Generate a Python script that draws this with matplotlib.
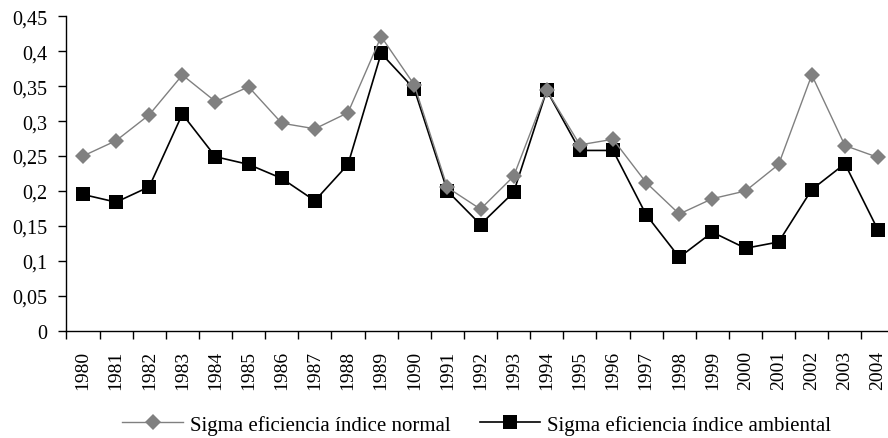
import numpy as np
import matplotlib.pyplot as plt

plt.rcParams['font.family'] = ['Liberation Serif', 'DejaVu Serif']

anos = ['1980', '1981', '1982', '1983', '1984', '1985', '1986', '1987', '1988',
        '1989', '1090', '1991', '1992', '1993', '1994', '1995', '1996', '1997',
        '1998', '1999', '2000', '2001', '2002', '2003', '2004']

sigma_normal = [0.250, 0.272, 0.309, 0.366, 0.328, 0.349, 0.297, 0.289, 0.312,
                0.421, 0.352, 0.205, 0.174, 0.221, 0.344, 0.266, 0.274, 0.212,
                0.167, 0.189, 0.200, 0.238, 0.366, 0.265, 0.248]

sigma_ambiental = [0.195, 0.184, 0.206, 0.310, 0.249, 0.238, 0.218, 0.186, 0.238,
                   0.397, 0.346, 0.200, 0.152, 0.198, 0.344, 0.258, 0.258, 0.166,
                   0.105, 0.141, 0.118, 0.127, 0.202, 0.239, 0.144]

fig = plt.figure(figsize=(8.88, 4.39), dpi=100)
ax = fig.add_axes([66.4 / 888, 1 - 331.7 / 439, (894.6 - 66.4) / 888, (331.7 - 17.3) / 439])

x = np.arange(len(anos))
ax.plot(x, sigma_normal, color='#808080', lw=1.0, marker='D', ms=8.2,
        markeredgewidth=0, label='Sigma eficiencia índice normal', zorder=3)
ax.plot(x, sigma_ambiental, color='black', lw=1.2, marker='s', ms=9.5,
        markeredgewidth=0, label='Sigma eficiencia índice ambiental', zorder=2)

ax.set_xlim(-0.5, len(anos) - 0.5)
ax.set_ylim(0, 0.45)
ax.set_yticks(np.arange(0, 0.451, 0.05))
ax.set_yticklabels(['0' if v == 0 else ('%.2f' % v).rstrip('0').replace('.', ',')
                    for v in np.arange(0, 0.451, 0.05)])

ax.set_xticks(x)
ax.set_xticklabels(anos, rotation=90, va='top')
ax.set_xticks(np.arange(-0.5, len(anos), 1), minor=True)
ax.tick_params(axis='x', which='major', length=0, pad=14, labelsize=14)
ax.tick_params(axis='x', which='minor', length=6, width=1, direction='out')
ax.tick_params(axis='y', length=6, width=1, direction='out', pad=8, labelsize=14.5)

for s in ['top', 'right']:
    ax.spines[s].set_visible(False)
ax.spines['left'].set_linewidth(1)
ax.spines['bottom'].set_linewidth(1)

fig.legend(loc='center', bbox_to_anchor=(0.537, 0.03), ncol=2, frameon=False,
           fontsize=15, handlelength=2.9, columnspacing=1.4, handletextpad=0.34,
           borderaxespad=0, borderpad=0)

fig.savefig('out.png', dpi=100)
